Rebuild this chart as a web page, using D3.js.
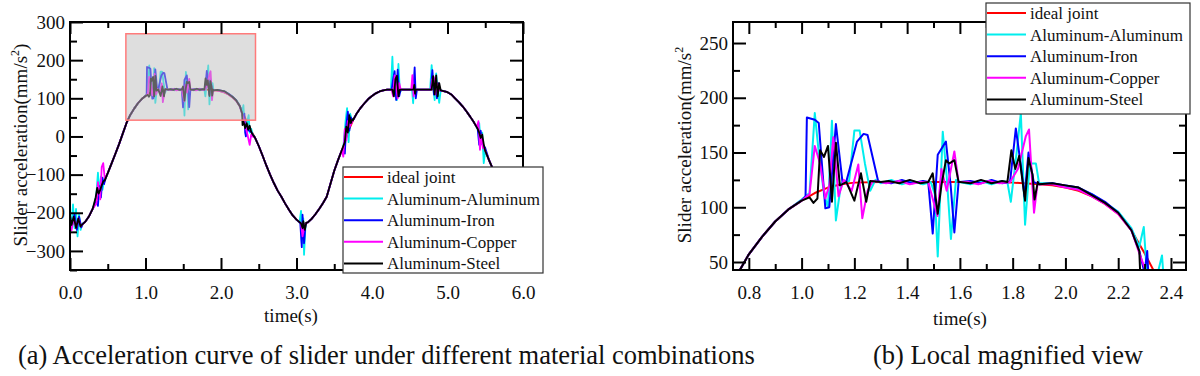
<!DOCTYPE html>
<html>
<head>
<meta charset="utf-8">
<script src="https://cdn.jsdelivr.net/npm/d3@7"></script>
<style>
body { margin: 0; background: #fff; }
svg text { font-family: "Liberation Serif", "Times New Roman", serif; fill: #111; }
</style>
</head>
<body>
<svg id="chart" width="1200" height="376"></svg>
<script>
var svg = d3.select('#chart');

// ---------------- data ----------------
var seriesNames = ['ideal joint', 'Aluminum-Aluminum', 'Aluminum-Iron', 'Aluminum-Copper', 'Aluminum-Steel'];
var seriesColors = ['#ff0000', '#00eeee', '#0000ff', '#ff00ff', '#000000'];

// ideal joint, [time (s), acceleration (mm/s^2)]
var idealJoint = [
  [0.00,-222],[0.05,-229],[0.10,-233],[0.15,-232],[0.20,-224],[0.25,-210],[0.30,-190],[0.35,-168],
  [0.40,-146],[0.45,-121],[0.50,-96],[0.55,-71],[0.60,-46],[0.65,-20],[0.70,8],[0.75,36],[0.80,57],
  [0.85,73],[0.90,87],[0.95,98],[1.00,106],[1.05,113],[1.10,118],[1.15,121],[1.20,122.5],[1.30,123],
  [1.40,123],[1.50,123],[1.60,123],[1.70,123],[1.80,122.5],[1.90,121],[1.95,120],[2.00,118],[2.05,115],
  [2.10,110],[2.15,103],[2.20,94],[2.25,79],[2.30,58],[2.35,35],[2.40,15],[2.45,-3],[2.50,-25],
  [2.55,-50],[2.60,-76],[2.65,-100],[2.70,-122],[2.75,-142],[2.80,-158],[2.85,-176],[2.90,-192],
  [2.95,-207],[3.00,-218],[3.05,-226],[3.10,-229],[3.15,-225],[3.20,-216],[3.25,-204],[3.30,-190],
  [3.35,-175],[3.40,-158],[3.45,-124],[3.50,-90],[3.55,-62],[3.60,-36],[3.65,-9],[3.70,20],[3.75,43],
  [3.80,61],[3.85,75],[3.90,87],[3.95,98],[4.00,106],[4.05,113],[4.10,118],[4.15,121],[4.20,122.5],
  [4.30,123],[4.40,123],[4.50,123],[4.60,123],[4.70,123],[4.80,122.5],[4.90,121],[4.95,119],[5.00,116],
  [5.05,110],[5.10,100],[5.15,90],[5.20,79],[5.25,66],[5.30,52],[5.35,37],[5.40,20],[5.45,-8],
  [5.50,-38],[5.55,-62],[5.60,-85],[5.65,-110]
];

// disturbed stretches of each joint-clearance series (elsewhere they follow the ideal curve)
var aluminumAluminum = [
  [[0.00,-212],[0.02,-232],[0.04,-178],[0.06,-240],[0.08,-190],[0.10,-262],[0.12,-205],[0.14,-245],[0.16,-229]],
  [[0.33,-172],[0.35,-150],[0.37,-95],[0.39,-150],[0.41,-105],[0.43,-140],[0.45,-118]],
  [[1.00,107],[1.03,113],[1.05,186],[1.065,150],[1.085,112],[1.10,100],[1.115,179],[1.13,88],[1.15,122],
   [1.18,124],[1.20,170],[1.22,170],[1.24,140],[1.26,115],[1.28,125],[1.30,122]],
  [[1.34,125],[1.38,121],[1.42,124],[1.46,121]],
  [[1.49,123],[1.505,112],[1.516,55],[1.535,169],[1.55,128],[1.566,71],[1.585,125],[1.60,123]],
  [[1.64,121],[1.68,124],[1.72,121],[1.76,124]],
  [[1.78,123],[1.793,105],[1.815,150],[1.831,186],[1.847,84],[1.865,140],[1.888,140],[1.90,122]],
  [[1.95,122],[2.00,119],[2.05,117],[2.10,112],[2.15,104],[2.20,96],[2.25,81]],
  [[2.28,64],[2.297,82],[2.31,35],[2.33,20],[2.35,40],[2.366,56],[2.38,10],[2.40,20],[2.42,5]],
  [[3.04,-226],[3.06,-195],[3.07,-280],[3.09,-215],[3.10,-310],[3.12,-230]],
  [[3.62,-30],[3.65,40],[3.67,74],[3.69,-15],[3.71,60],[3.73,45]],
  [[4.25,123],[4.27,209],[4.29,110],[4.31,150],[4.33,95],[4.35,190],[4.37,115],[4.39,123]],
  [[4.53,123],[4.545,87],[4.56,140],[4.575,115],[4.59,123]],
  [[4.77,123],[4.79,187],[4.81,130],[4.83,95],[4.85,165],[4.87,120],[4.89,88],[4.91,121]],
  [[5.40,20],[5.42,35],[5.44,-15],[5.46,10],[5.48,-70],[5.50,-38]]
];
var aluminumIron = [
  [[0.00,-218],[0.03,-228],[0.06,-205],[0.09,-245],[0.12,-210],[0.15,-238],[0.17,-229]],
  [[0.35,-170],[0.37,-182],[0.39,-130],[0.41,-160],[0.43,-108],[0.45,-125],[0.47,-110]],
  [[1.00,106],[1.015,110],[1.02,182],[1.05,180],[1.065,177],[1.09,99],[1.105,100],[1.13,176],[1.155,123],
   [1.17,124],[1.21,160],[1.235,167],[1.25,166],[1.29,124],[1.30,123]],
  [[1.34,122],[1.38,125],[1.42,122],[1.46,124]],
  [[1.48,123],[1.497,76],[1.516,148],[1.547,160],[1.565,120],[1.579,77],[1.595,123]],
  [[1.64,124],[1.68,122],[1.72,125],[1.76,122]],
  [[1.79,123],[1.812,172],[1.83,140],[1.845,110],[1.86,150],[1.88,123]],
  [[1.95,122],[2.00,120],[2.05,118],[2.10,112],[2.15,105],[2.20,95],[2.25,79]],
  [[2.28,60],[2.30,40],[2.31,60],[2.32,10],[2.33,0],[2.35,25],[2.37,15],[2.40,12],[2.42,4]],
  [[3.05,-227],[3.07,-290],[3.08,-205],[3.10,-280],[3.12,-229]],
  [[3.62,-30],[3.64,-45],[3.66,30],[3.68,65],[3.70,15],[3.72,50],[3.74,40]],
  [[4.26,122],[4.28,150],[4.30,171],[4.32,96],[4.34,175],[4.36,105],[4.38,123]],
  [[4.53,123],[4.55,130],[4.565,181],[4.58,100],[4.595,123]],
  [[4.78,123],[4.80,174],[4.82,110],[4.84,150],[4.86,100],[4.88,140],[4.90,121]],
  [[5.40,20],[5.42,-22],[5.44,15],[5.46,-20],[5.48,-25],[5.50,-30]]
];
var aluminumCopper = [
  [[0.00,-228],[0.02,-246],[0.05,-212],[0.08,-240],[0.11,-215],[0.14,-236],[0.16,-231]],
  [[0.35,-175],[0.37,-120],[0.40,-165],[0.42,-80],[0.44,-70],[0.46,-110],[0.48,-104]],
  [[1.00,106],[1.03,112],[1.05,156],[1.07,140],[1.09,108],[1.105,120],[1.12,164],[1.14,110],[1.16,125],
   [1.19,115],[1.215,139],[1.23,90],[1.25,115],[1.27,124]],
  [[1.32,122],[1.37,124],[1.41,121],[1.45,123]],
  [[1.48,123],[1.50,105],[1.515,92],[1.53,135],[1.55,115],[1.579,151],[1.595,123]],
  [[1.63,123],[1.67,121],[1.71,124],[1.75,122]],
  [[1.79,123],[1.82,135],[1.85,165],[1.862,171],[1.881,95],[1.895,123]],
  [[1.95,121],[2.00,118],[2.05,116],[2.10,110],[2.15,103],[2.20,94],[2.25,79]],
  [[2.28,58],[2.30,45],[2.32,30],[2.35,5],[2.38,-22],[2.40,5],[2.42,0]],
  [[3.06,-228],[3.08,-262],[3.10,-240],[3.12,-230]],
  [[3.60,-36],[3.62,-53],[3.64,20],[3.66,-10],[3.68,40],[3.70,25]],
  [[4.26,123],[4.28,105],[4.30,160],[4.32,130],[4.34,100],[4.36,140],[4.38,123]],
  [[4.52,123],[4.535,161],[4.55,105],[4.57,123]],
  [[4.78,123],[4.80,150],[4.82,155],[4.84,110],[4.86,140],[4.88,123]],
  [[5.39,25],[5.41,40],[5.43,-35],[5.45,5],[5.47,-30],[5.49,-32]]
];
var aluminumSteel = [
  [[0.00,-205],[0.02,-232],[0.05,-210],[0.08,-240],[0.11,-215],[0.14,-236],[0.16,-231]],
  [[0.34,-160],[0.36,-135],[0.38,-150],[0.40,-140],[0.42,-128],[0.44,-118],[0.46,-115]],
  [[1.00,106],[1.03,109],[1.045,104],[1.06,108],[1.07,152],[1.085,146],[1.10,156],[1.115,105],[1.13,159],
   [1.145,120],[1.17,123],[1.20,106],[1.225,131],[1.245,105],[1.26,124]],
  [[1.33,124],[1.37,122],[1.41,125],[1.45,122]],
  [[1.48,123],[1.497,131],[1.516,94],[1.53,120],[1.547,143],[1.56,140],[1.579,143],[1.595,123]],
  [[1.64,122],[1.68,125],[1.72,122],[1.76,124]],
  [[1.78,123],[1.795,152],[1.81,135],[1.825,147],[1.847,106],[1.86,145],[1.875,130],[1.883,107],[1.895,123]],
  [[1.95,122],[2.00,120],[2.05,118],[2.10,111],[2.15,104],[2.20,95],[2.25,79]],
  [[2.28,60],[2.285,30],[2.30,38],[2.32,22],[2.34,35],[2.36,18],[2.38,28],[2.40,12],[2.42,5]],
  [[3.06,-228],[3.08,-240],[3.09,-222],[3.11,-245],[3.13,-226]],
  [[3.64,-15],[3.66,26],[3.68,10],[3.70,56],[3.72,35],[3.74,45]],
  [[4.27,123],[4.29,105],[4.31,150],[4.33,159],[4.35,105],[4.37,123]],
  [[4.55,123],[4.56,135],[4.57,112],[4.58,123]],
  [[4.79,123],[4.81,158],[4.83,110],[4.85,160],[4.87,105],[4.89,140],[4.91,121]],
  [[5.42,10],[5.44,-4],[5.46,5],[5.48,-20]]
];

// axes
var xTicksA = [0, 1, 2, 3, 4, 5, 6];
var xMinorA = [0.5, 1.5, 2.5, 3.5, 4.5, 5.5];
var yTicksA = [-300, -200, -100, 0, 100, 200, 300];
var yMinorA = [-350, -250, -150, -50, 50, 150, 250];
var xTicksB = [0.8, 1.0, 1.2, 1.4, 1.6, 1.8, 2.0, 2.2, 2.4];
var xMinorB = [0.9, 1.1, 1.3, 1.5, 1.7, 1.9, 2.1, 2.3];
var yTicksB = [50, 100, 150, 200, 250];
var yMinorB = [75, 125, 175, 225];
var zoomWindowT = [0.74, 2.457];
var zoomWindowA = [42.7, 269.2];
var captionA = '(a) Acceleration curve of slider under different material combinations';
var captionB = '(b) Local magnified view';

// ---------------- build series ----------------
function withDisturbances(clusters) {
    var spans = clusters.map(function(c) { return [c[0][0], c[c.length - 1][0]]; });
    var base = idealJoint.filter(function(p) {
        return !spans.some(function(s) { return p[0] >= s[0] && p[0] <= s[1]; });
    });
    return base.concat(d3.merge(clusters)).sort(function(a, b) { return a[0] - b[0]; });
}

var seriesData = [idealJoint, withDisturbances(aluminumAluminum), withDisturbances(aluminumIron),
                  withDisturbances(aluminumCopper), withDisturbances(aluminumSteel)];
var series = seriesNames.map(function(name, i) {
    return {name: name, color: seriesColors[i], values: seriesData[i]};
});

// ---------------- drawing ----------------
function drawPanel(p) {
    var x = d3.scaleLinear().domain(p.xDomain).range([p.left, p.right]);
    var y = d3.scaleLinear().domain(p.yDomain).range([p.bottom, p.top]);
    var g = svg.append('g');

    g.append('clipPath').attr('id', p.id + '-clip')
      .append('rect')
        .attr('x', p.left).attr('y', p.top)
        .attr('width', p.right - p.left).attr('height', p.bottom - p.top);

    var line = d3.line()
        .x(function(d) { return x(d[0]); })
        .y(function(d) { return y(d[1]); });

    var lines = g.append('g').attr('clip-path', 'url(#' + p.id + '-clip)');
    series.forEach(function(s) {
        lines.append('path')
            .datum(s.values)
            .attr('d', line)
            .attr('fill', 'none')
            .attr('stroke', s.color)
            .attr('stroke-width', p.lineWidth)
            .attr('stroke-linejoin', 'round');
    });

    if (p.highlight) {
        g.append('rect')
            .attr('x', x(zoomWindowT[0])).attr('y', y(zoomWindowA[1]))
            .attr('width', x(zoomWindowT[1]) - x(zoomWindowT[0]))
            .attr('height', y(zoomWindowA[0]) - y(zoomWindowA[1]))
            .attr('fill', '#bdbdbd').attr('fill-opacity', 0.5)
            .attr('stroke', '#ff7b7b').attr('stroke-width', 1.5);
    }

    function ticks(axisFn, scale, vals, size, fmt, tx, ty, pad) {
        var ax = axisFn(scale).tickValues(vals).tickSize(size).tickPadding(pad || 3)
            .tickFormat(fmt || function() { return ''; });
        var a = g.append('g').attr('transform', 'translate(' + tx + ',' + ty + ')').call(ax);
        a.select('.domain').remove();
        a.attr('font-family', null).attr('font-size', 19);
        a.selectAll('line').attr('stroke', '#000').attr('stroke-width', 2);
        return a;
    }
    ticks(d3.axisBottom, x, p.xTicks, -12, p.xFormat, 0, p.bottom, 16);
    ticks(d3.axisBottom, x, p.xMinor, -6, null, 0, p.bottom);
    ticks(d3.axisTop, x, p.xTicks, -12, null, 0, p.top);
    ticks(d3.axisTop, x, p.xMinor, -6, null, 0, p.top);
    ticks(d3.axisLeft, y, p.yTicks, -13, d3.format('d'), p.left, 0, 5);
    ticks(d3.axisLeft, y, p.yMinor, -7, null, p.left, 0);
    ticks(d3.axisRight, y, p.yTicks, -13, null, p.right, 0);
    ticks(d3.axisRight, y, p.yMinor, -7, null, p.right, 0);

    g.append('rect')
        .attr('x', p.left).attr('y', p.top)
        .attr('width', p.right - p.left).attr('height', p.bottom - p.top)
        .attr('fill', 'none').attr('stroke', '#000').attr('stroke-width', 2);

    // axis titles
    var yt = g.append('text')
        .attr('transform', 'translate(' + p.yTitleX + ',145) rotate(-90)')
        .attr('text-anchor', 'middle')
        .attr('font-size', 19);
    yt.append('tspan').text('Slider acceleration(mm/s');
    yt.append('tspan').attr('dy', -8).attr('font-size', 12).text('2');
    if (p.closeParen) yt.append('tspan').attr('dy', 8).text(')');

    g.append('text')
        .attr('x', p.xTitleX).attr('y', p.xTitleY)
        .attr('text-anchor', 'middle')
        .attr('font-size', 19)
        .text('time(s)');

    // legend
    var lg = g.append('g').attr('transform', 'translate(' + p.legend[0] + ',' + p.legend[1] + ')');
    lg.append('rect')
        .attr('width', p.legend[2]).attr('height', p.legend[3])
        .attr('fill', '#fff').attr('stroke', '#333').attr('stroke-width', 1.2);
    var rows = lg.selectAll('.row').data(series).enter().append('g')
        .attr('class', 'row')
        .attr('transform', function(d, i) { return 'translate(0,' + (10 + i * 21.6) + ')'; });
    rows.append('line')
        .attr('x1', 1).attr('x2', 40)
        .attr('stroke', function(d) { return d.color; })
        .attr('stroke-width', 2);
    rows.append('text')
        .attr('x', 44).attr('y', 6)
        .attr('font-size', 17)
        .text(function(d) { return d.name; });
}

drawPanel({
    id: 'full', left: 70, right: 523, top: 22, bottom: 270,
    xDomain: [0, 6], yDomain: [-350, 300],
    xTicks: xTicksA, xMinor: xMinorA, yTicks: yTicksA, yMinor: yMinorA,
    xFormat: d3.format('.1f'), lineWidth: 1.8, highlight: true,
    yTitleX: 27, xTitleX: 291, xTitleY: 322, closeParen: true,
    legend: [343, 167, 200, 106]
});

drawPanel({
    id: 'zoom', left: 733, right: 1186, top: 22, bottom: 270,
    xDomain: zoomWindowT, yDomain: zoomWindowA,
    xTicks: xTicksB, xMinor: xMinorB, yTicks: yTicksB, yMinor: yMinorB,
    xFormat: d3.format('.1f'), lineWidth: 2, highlight: false,
    yTitleX: 691, xTitleX: 960, xTitleY: 325, closeParen: false,
    legend: [986, 3, 204, 111]
});

svg.append('text').attr('x', 18).attr('y', 364).attr('font-size', 26.5).text(captionA);
svg.append('text').attr('x', 873).attr('y', 364).attr('font-size', 26.5).text(captionB);
</script>
</body>
</html>
